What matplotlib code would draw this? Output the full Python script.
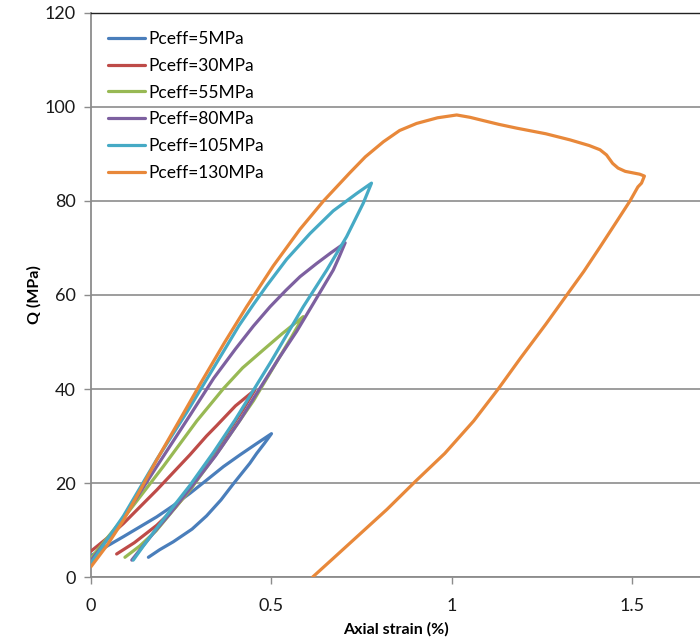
import matplotlib
matplotlib.use("Agg")
import matplotlib.pyplot as plt

# axial strain (%) vs Q (MPa)
labels = ["Pceff=5MPa", "Pceff=30MPa", "Pceff=55MPa",
          "Pceff=80MPa", "Pceff=105MPa", "Pceff=130MPa"]
colors = ["#4A7EBB", "#BE4B48", "#98B954", "#7D60A0", "#46AAC5", "#E8883A"]

x_5 = [0.0, 0.045, 0.09, 0.136, 0.182, 0.228, 0.274, 0.32, 0.367, 0.413, 0.459, 0.5,
       0.48, 0.459, 0.44, 0.394, 0.36, 0.32, 0.28, 0.228, 0.19, 0.159]
y_5 = [4.5, 6.6, 8.6, 10.7, 12.8, 15.2, 17.8, 20.6, 23.5, 26.0, 28.4, 30.5,
       28.4, 26.3, 24.2, 19.8, 16.4, 13.0, 10.2, 7.5, 5.8, 4.2]

x_30 = [0.0, 0.045, 0.09, 0.182, 0.274, 0.32, 0.348, 0.40, 0.454,
        0.42, 0.36, 0.274, 0.23, 0.182, 0.12, 0.071]
y_30 = [5.5, 8.3, 11.4, 18.5, 26.0, 30.0, 32.2, 36.4, 39.8,
        35.5, 28.5, 18.5, 14.5, 11.0, 7.3, 4.9]

x_55 = [0.0, 0.05, 0.1, 0.2, 0.293, 0.367, 0.42, 0.477, 0.53, 0.588,
        0.555, 0.52, 0.45, 0.36, 0.274, 0.22, 0.18, 0.135, 0.094]
y_55 = [4.0, 8.8, 13.5, 23.5, 33.2, 40.1, 44.5, 48.3, 51.8, 55.4,
        51.0, 46.5, 37.5, 27.5, 18.5, 13.5, 9.8, 6.6, 4.2]

x_80 = [0.0, 0.045, 0.09, 0.182, 0.275, 0.34, 0.40, 0.45, 0.496, 0.54, 0.579, 0.625, 0.665, 0.704,
        0.688, 0.671, 0.616, 0.57, 0.52, 0.465, 0.413, 0.345, 0.274, 0.22, 0.18, 0.145, 0.113]
y_80 = [3.5, 8.0, 12.5, 23.5, 34.5, 42.3, 48.5, 53.4, 57.5, 61.0, 63.9, 66.7, 69.0, 71.1,
        68.2, 65.3, 58.2, 52.3, 46.5, 39.8, 33.4, 25.8, 18.8, 13.6, 10.0, 6.7, 3.6]

x_105 = [0.0, 0.045, 0.09, 0.182, 0.265, 0.367, 0.41, 0.45, 0.487, 0.542, 0.607, 0.671, 0.736, 0.777,
         0.754, 0.708, 0.653, 0.588, 0.5, 0.44, 0.399, 0.34, 0.274, 0.22, 0.18, 0.145, 0.117]
y_105 = [3.0, 8.0, 13.0, 25.0, 35.0, 48.0, 53.5, 58.0, 62.0, 67.6, 73.1, 77.9, 81.6, 83.8,
         79.5, 72.4, 65.3, 57.5, 46.0, 38.5, 33.4, 26.6, 19.5, 14.2, 10.2, 6.6, 3.6]

x_130 = [0.0, 0.045, 0.09, 0.135, 0.182, 0.247, 0.302, 0.37, 0.431, 0.505, 0.579, 0.644, 0.717,
         0.76, 0.81, 0.855, 0.902, 0.96, 1.013, 1.05, 1.087, 1.13, 1.179, 1.26, 1.327, 1.38,
         1.41, 1.428, 1.445, 1.46, 1.48, 1.50, 1.52, 1.533,
         1.525, 1.515, 1.493, 1.455, 1.41, 1.365, 1.318, 1.26, 1.19, 1.128, 1.06, 0.98,
         0.898, 0.82, 0.74, 0.67, 0.614]
y_130 = [2.2, 6.8, 12.1, 18.3, 24.9, 33.6, 41.0, 49.9, 57.5, 66.2, 74.0, 80.0, 86.0,
         89.4, 92.6, 95.0, 96.5, 97.7, 98.3, 97.8, 97.1, 96.3, 95.5, 94.3, 93.0, 91.8,
         90.9, 89.8, 88.0, 87.0, 86.3, 86.0, 85.7, 85.3,
         83.8, 83.0, 80.0, 75.5, 70.2, 65.0, 60.0, 53.8, 46.6, 40.0, 33.2, 26.3,
         20.3, 14.4, 8.8, 3.9, 0.0]

xs = [x_5, x_30, x_55, x_80, x_105, x_130]
ys = [y_5, y_30, y_55, y_80, y_105, y_130]

plt.rcParams['font.family'] = ['Lato', 'DejaVu Sans']

fig = plt.figure(figsize=(7, 6.42), dpi=100)
ax = fig.add_axes([0.13, 0.1012, 0.87, 0.8786])

for x, y, c, lab in zip(xs, ys, colors, labels):
    ax.plot(x, y, color=c, lw=2.3, label=lab, solid_joinstyle="round",
            solid_capstyle="round", zorder=3)

ax.set_xlim(0, 1.687)
ax.set_ylim(0, 120)
ax.set_xticks([0, 0.5, 1, 1.5])
ax.set_xticklabels(["0", "0.5", "1", "1.5"])
ax.set_yticks(range(0, 121, 20))
ax.yaxis.grid(True, color="#8c8c8c", lw=1.2)
ax.set_axisbelow(True)

for s in ["left", "bottom"]:
    ax.spines[s].set_color("#8c8c8c")
    ax.spines[s].set_linewidth(1.3)
ax.spines["right"].set_visible(False)
ax.spines["top"].set_color("#222222")
ax.spines["top"].set_linewidth(1.0)

ax.tick_params(axis="both", direction="out", length=5, width=1, color="#8c8c8c",
               labelsize=13, labelcolor="#1a1a1a")
ax.tick_params(axis="x", pad=10)
ax.tick_params(axis="y", pad=6)

ax.set_xlabel("Axial strain (%)", fontsize=11.5, fontweight="bold", labelpad=6)
ax.set_ylabel("Q (MPa)", fontsize=11.5, fontweight="bold", labelpad=2)

ax.legend(loc="upper left", bbox_to_anchor=(0.028, 0.968), frameon=False,
          fontsize=12.5, handlelength=2.1, handletextpad=0.2,
          labelspacing=0.62, borderpad=0, borderaxespad=0)

fig.savefig("out.png", dpi=100)
